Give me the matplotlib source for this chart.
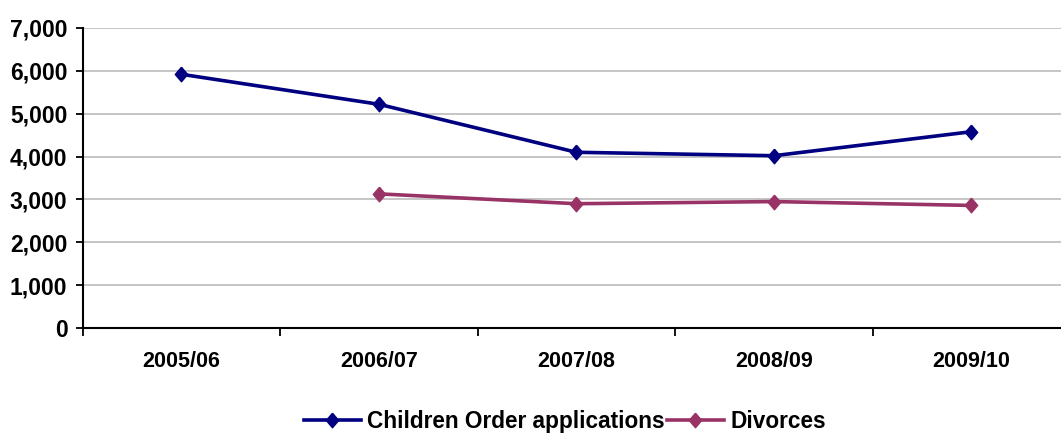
import numpy as np
import matplotlib
matplotlib.use("Agg")
import matplotlib.pyplot as plt
from matplotlib.ticker import FuncFormatter, FixedLocator

years = ["2005/06", "2006/07", "2007/08", "2008/09", "2009/10"]
children_order = [5920, 5220, 4100, 4020, 4580]
divorces = [np.nan, 3130, 2900, 2950, 2860]

plt.rcParams["font.family"] = ["Liberation Sans", "DejaVu Sans"]
plt.rcParams["font.weight"] = "bold"

fig = plt.figure(figsize=(10.61, 4.34), dpi=100)
ax = fig.add_axes([82.7 / 1061, 106 / 434, 987.5 / 1061, 300 / 434])

diamond = [(0, 1), (0.85, 0), (0, -1), (-0.85, 0), (0, 1)]
x = np.arange(len(years))
ax.plot(x, children_order, color="#000080", lw=2.6, marker=diamond,
        markersize=10.5, label="Children Order applications", zorder=3)
ax.plot(x, divorces, color="#993366", lw=2.6, marker=diamond,
        markersize=10.5, label="Divorces", zorder=3)

ax.set_xlim(-0.5, len(years) - 0.5)
ax.set_ylim(0, 7000)
ax.set_yticks(np.arange(0, 7001, 1000))
ax.yaxis.set_major_formatter(FuncFormatter(lambda v, p: f"{int(v):,}"))
ax.grid(axis="y", color="#C0C0C0", lw=1.3, zorder=0)
ax.set_axisbelow(True)

# category boundaries carry the tick marks, centres carry the labels
ax.xaxis.set_major_locator(FixedLocator(np.arange(-0.5, len(years), 1.0)))
ax.xaxis.set_minor_locator(FixedLocator(x))
ax.set_xticklabels([])
ax.set_xticklabels(years, minor=True)
ax.tick_params(axis="x", which="major", length=5.5, width=1.3, direction="out")
ax.tick_params(axis="x", which="minor", length=0, pad=16.5, labelsize=15.5)
ax.tick_params(axis="y", length=5, width=1.3, direction="out", pad=6, labelsize=16.5)

for s in ("top", "right"):
    ax.spines[s].set_visible(False)
for s in ("left", "bottom"):
    ax.spines[s].set_linewidth(1.5)
    ax.spines[s].set_color("black")

handles, labels = ax.get_legend_handles_labels()
fig.legend(handles, labels, loc="center", bbox_to_anchor=(565 / 1061, 12.5 / 434),
           ncol=2, frameon=False, fontsize=16.3, handlelength=2.5,
           handletextpad=0.3, columnspacing=0.1, borderpad=0)

fig.savefig("out.png", dpi=100)
